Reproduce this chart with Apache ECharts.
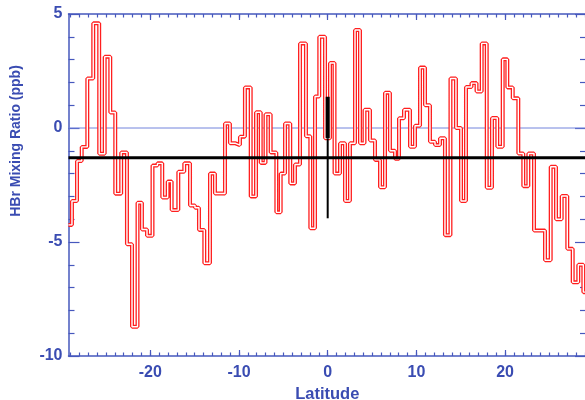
<!DOCTYPE html>
<html>
<head>
<meta charset="utf-8">
<script src="https://cdn.jsdelivr.net/npm/echarts@6/dist/echarts.min.js"></script>
<style>
  html, body { margin: 0; padding: 0; background: #ffffff; }
  #chart { width: 585px; height: 400px; }
</style>
</head>
<body>
<div id="chart"></div>
<script>
// Latitude bin edges (degrees) of the HBr profile
const latEdges = [
  -29.22, -28.83, -28.26, -27.73, -27.10, -26.43, -25.76, -25.14, -24.51, -23.95,
  -23.28, -22.63, -22.06, -21.44, -20.94, -20.37, -19.75, -19.19, -18.65, -18.04,
  -17.59, -16.84, -16.17, -15.52, -14.96, -14.51, -13.91, -13.27, -12.71, -12.15,
  -11.58, -11.02, -10.39, -9.89, -9.33, -8.68, -8.08, -7.55, -7.01, -6.43,
  -5.79, -5.30, -4.81, -4.22, -3.69, -3.12, -2.45, -1.96, -1.43, -0.95,
  -0.30, 0.26, 0.77, 1.39, 1.95, 2.51, 3.08, 3.64, 4.15, 4.77,
  5.33, 5.90, 6.46, 7.02, 7.59, 8.04, 8.60, 9.28, 9.84, 10.41,
  10.97, 11.53, 12.10, 12.66, 13.22, 13.84, 14.46, 15.03, 15.59, 16.21,
  16.78, 17.36, 17.93, 18.52, 19.12, 19.73, 20.25, 20.86, 21.49, 22.05,
  22.62, 23.26, 23.88, 24.50, 25.14, 25.74, 26.38, 27.01, 27.62, 28.25,
  28.82, 29.12
];

// HBr mixing ratio in each bin (ppb)
const hbrValues = [
  -4.25, -3.2, -1.45, -0.83, 2.17, 4.59, -1.13, 3.13, 0.68, -2.88,
  -1.07, -5.1, -8.72, -3.28, -4.45, -4.73, -1.65, -1.55, -3.05, -2.35,
  -3.6, -1.92, -1.55, -3.4, -3.5, -4.47, -5.93, -2.0, -2.87, -2.87,
  0.2, -0.67, -0.75, -0.38, 1.78, -3.0, 0.69, -1.53, 0.6, -1.07,
  -3.7, -2.0, 0.2, -2.43, -1.6, 3.71, -0.36, -4.4, 1.38, 4.0,
  -0.45, 2.85, -2.0, -0.67, -3.2, -0.67, 4.3, -0.67, 0.8, -0.55,
  -1.4, -2.6, 1.55, -1.0, -1.35, 0.43, 0.8, -0.82, 0.1, 2.65,
  1.0, -0.6, -0.75, -0.45, -4.7, 2.17, 0.0, -3.2, 1.8, 1.97,
  1.6, 3.71, -2.62, 0.44, -0.82, 3.01, 1.78, 1.3, -1.12, -2.55,
  -1.12, -4.5, -4.5, -5.8, -1.7, -4.0, -2.98, -5.3, -6.77, -6.0,
  -7.2
];

// Reference levels
const meanLevel = -1.3;              // overall mean (black)
const zeroLevel = 0;                 // zero line (blue)
const eqThickRange = [1.37, -0.45];  // equator bar, thick part
const eqThinRange = [-0.45, -3.96];  // equator bar, thin part
const eqLat = 0;

// Axis ticks and labels
const xMajorTicks = [-20, -10, 0, 10, 20];
const xRange = [-29.22, 29.12];
const yRange = [-10, 5];
const yStep = 5;

const xMinorTicks = [];
for (let v = Math.ceil(xRange[0]); v <= Math.floor(xRange[1]); v++) xMinorTicks.push(v);

const axisBlue = '#4658bd';
const labelBlue = '#3a4cb2';
const fontFam = '"Liberation Sans", Arial, Helvetica, sans-serif';

// Step line points: left edge of each bin, plus the closing right edge
const stepData = hbrValues.map((v, i) => [latEdges[i], v]);
stepData.push([latEdges[latEdges.length - 1], hbrValues[hbrValues.length - 1]]);

function xAxisDef(position, ticks, len, withLabels, withLine) {
  return {
    type: 'value',
    position: position,
    min: xRange[0],
    max: xRange[1],
    axisLine: { show: withLine, onZero: false, lineStyle: { color: axisBlue, width: 1.5 } },
    axisTick: { show: true, inside: true, length: len, customValues: ticks,
                lineStyle: { color: axisBlue, width: 1.2 } },
    axisLabel: withLabels ? {
      show: true, customValues: xMajorTicks, margin: 9,
      color: labelBlue, fontSize: 16, fontWeight: 'bold', fontFamily: fontFam
    } : { show: false },
    splitLine: { show: false }
  };
}

function yAxisDef(position, withLabels) {
  return {
    type: 'value', position: position, min: yRange[0], max: yRange[1], interval: yStep,
    axisLine: { show: true, onZero: false, lineStyle: { color: axisBlue, width: 1.5 } },
    axisTick: { show: true, inside: true, length: 11, lineStyle: { color: axisBlue, width: 1.2 } },
    minorTick: { show: true, splitNumber: 5, length: 6, lineStyle: { color: axisBlue, width: 1.2 } },
    axisLabel: withLabels ? {
      show: true, margin: 6, color: labelBlue, fontSize: 16, fontWeight: 'bold', fontFamily: fontFam
    } : { show: false },
    splitLine: { show: false }
  };
}

const chart = echarts.init(document.getElementById('chart'), null, { renderer: 'canvas' });

chart.setOption({
  animation: false,
  backgroundColor: '#ffffff',
  grid: {
    left: 68.5, top: 14, width: 517.5, height: 342,
    containLabel: false, outerBoundsMode: 'none'
  },
  xAxis: [
    Object.assign(xAxisDef('bottom', xMajorTicks, 6, true, true), {
      name: 'Latitude', nameLocation: 'middle', nameGap: 30,
      nameTextStyle: { color: labelBlue, fontSize: 16.5, fontWeight: 'bold', fontFamily: fontFam }
    }),
    xAxisDef('bottom', xMinorTicks, 3.5, false, false),
    xAxisDef('top', xMajorTicks, 6, false, true),
    xAxisDef('top', xMinorTicks, 3.5, false, false)
  ],
  yAxis: [
    yAxisDef('left', true),
    yAxisDef('right', false)
  ],
  graphic: [
    {
      type: 'text', x: 16.5, y: 141, rotation: Math.PI / 2,
      style: {
        text: 'HBr Mixing Ratio (ppb)', fill: labelBlue,
        font: 'bold 14px ' + fontFam, textAlign: 'center', textVerticalAlign: 'middle'
      }
    }
  ],
  series: [
    {
      type: 'line', name: 'zero', xAxisIndex: 0, yAxisIndex: 0,
      data: [[xRange[0], zeroLevel], [xRange[1], zeroLevel]],
      symbol: 'none', lineStyle: { color: '#7384dc', width: 1 }, z: 1, silent: true
    },
    {
      type: 'line', name: 'HBr', xAxisIndex: 0, yAxisIndex: 0,
      data: stepData, step: 'end', symbol: 'none',
      lineStyle: { color: '#ff1f1f', width: 4 }, z: 2
    },
    {
      type: 'line', name: 'HBr core', xAxisIndex: 0, yAxisIndex: 0,
      data: stepData, step: 'end', symbol: 'none',
      lineStyle: { color: '#ffffff', width: 1.4 }, z: 3, silent: true
    },
    {
      type: 'line', name: 'mean', xAxisIndex: 0, yAxisIndex: 0,
      data: [[xRange[0], meanLevel], [xRange[1], meanLevel]],
      symbol: 'none', lineStyle: { color: '#000000', width: 3 }, z: 4
    },
    {
      type: 'line', name: 'equator thin', xAxisIndex: 0, yAxisIndex: 0,
      data: [[eqLat, eqThinRange[0]], [eqLat, eqThinRange[1]]],
      symbol: 'none', lineStyle: { color: '#000000', width: 2 }, z: 5
    },
    {
      type: 'line', name: 'equator thick', xAxisIndex: 0, yAxisIndex: 0,
      data: [[eqLat, eqThickRange[0]], [eqLat, eqThickRange[1]]],
      symbol: 'none', lineStyle: { color: '#000000', width: 4 }, z: 5
    }
  ]
});
</script>
</body>
</html>
